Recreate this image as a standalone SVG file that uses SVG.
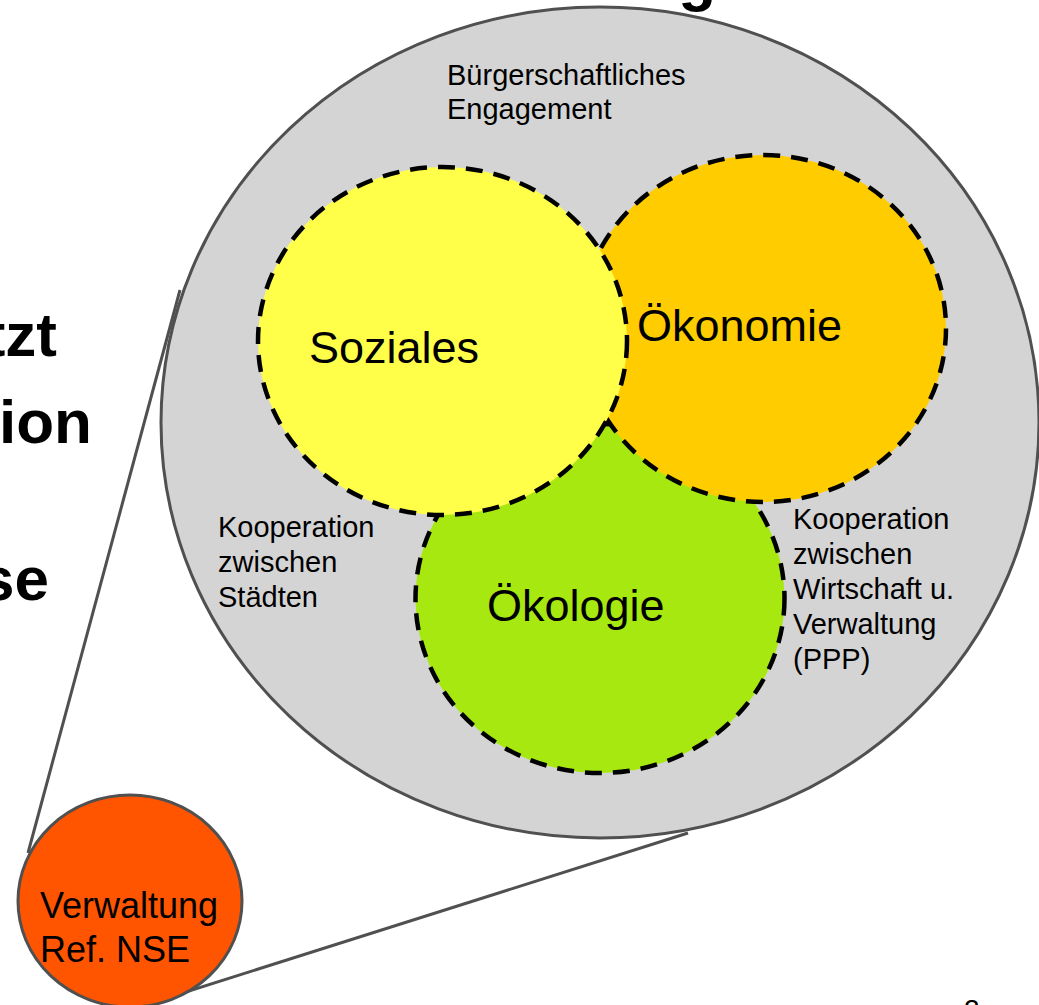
<svg xmlns="http://www.w3.org/2000/svg" width="1039" height="1005" viewBox="0 0 1039 1005">
<style>
text{font-family:"Liberation Sans",Arial,sans-serif;fill:#000}
.bold{font-weight:bold;font-size:62px}
.big{font-size:45px}
.small{font-size:29px}
.mid{font-size:36px}
.dash{stroke:#000;stroke-width:4.5;stroke-dasharray:17 11}
.solid{stroke:#505050;stroke-width:3}
</style>
<rect width="1039" height="1005" fill="#fff"/>
<g id="slide-text">
<text class="bold" x="716" y="-1" text-anchor="end">g</text>
<text class="bold" x="57" y="356" text-anchor="end">tzt</text>
<text class="bold" x="92" y="443" text-anchor="end">ion</text>
<text class="bold" x="49" y="600" text-anchor="end">se</text>
<text x="964" y="1019" style="font-size:28px">2</text>
</g>
<g id="engagement">
<ellipse cx="600" cy="422.5" rx="439" ry="415.5" fill="#d4d4d4" class="solid"/>
<text class="small" x="447" y="85">Bürgerschaftliches</text>
<text class="small" x="447" y="119">Engagement</text>
</g>
<g id="connectors" class="solid" fill="none">
<line x1="180" y1="290" x2="28" y2="853"/>
<line x1="688" y1="833" x2="148" y2="1004"/>
</g>
<g id="oekologie">
<ellipse cx="600" cy="598.5" rx="184.5" ry="174.5" fill="#a6e80f" class="dash"/>
<text class="big" x="487" y="621">Ökologie</text>
</g>
<g id="oekonomie">
<ellipse cx="763" cy="328.5" rx="183" ry="173.5" fill="#ffcc00" class="dash"/>
<text class="big" x="637" y="341">Ökonomie</text>
</g>
<g id="soziales">
<ellipse cx="442.5" cy="341" rx="184.5" ry="174" fill="#ffff4a" class="dash"/>
<text class="big" x="309" y="363">Soziales</text>
</g>
<g id="staedte">
<text class="small" x="218" y="537">Kooperation</text>
<text class="small" x="218" y="572">zwischen</text>
<text class="small" x="218" y="607">Städten</text>
</g>
<g id="ppp">
<text class="small" x="793" y="529">Kooperation</text>
<text class="small" x="793" y="564">zwischen</text>
<text class="small" x="793" y="599">Wirtschaft u.</text>
<text class="small" x="793" y="634">Verwaltung</text>
<text class="small" x="793" y="669">(PPP)</text>
</g>
<g id="verwaltung">
<ellipse cx="130" cy="901" rx="112" ry="106" fill="#ff5500" class="solid"/>
<text class="mid" x="40" y="918">Verwaltung</text>
<text class="mid" x="40" y="962">Ref. NSE</text>
</g>
</svg>
